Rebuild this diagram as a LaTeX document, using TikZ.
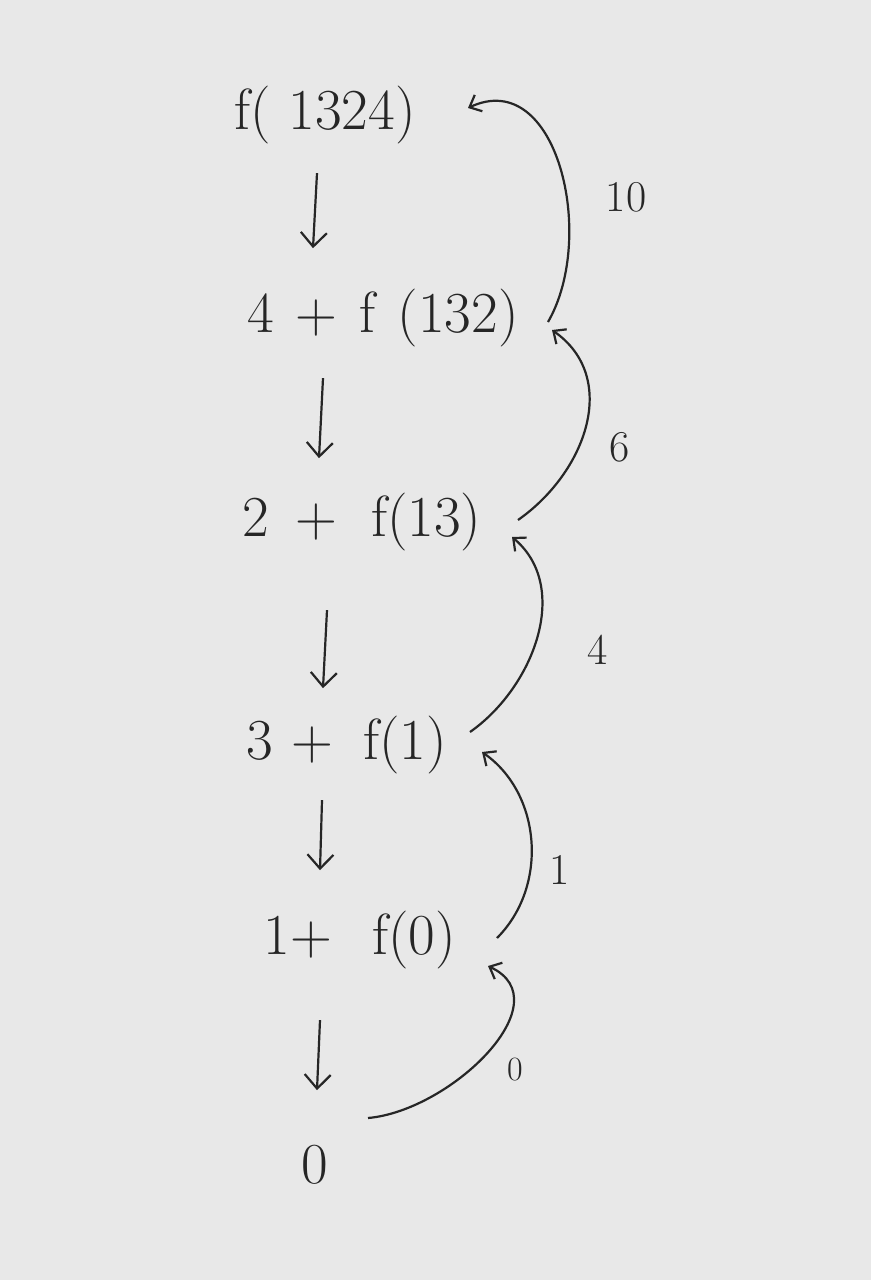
\documentclass[tikz,border=0pt]{standalone}
\usetikzlibrary{arrows.meta}
\begin{document}
\begin{tikzpicture}[x=1pt,y=-1pt,
  expr/.style={inner sep=1pt,font=\fontsize{58}{64}\selectfont,text=black!85},
  lbl/.style={inner sep=1pt,font=\fontsize{44}{50}\selectfont,text=black!85},
  down/.style={-{Straight Barb[length=14pt,width=26pt]},line width=2.2pt,black!85},
  back/.style={-{Straight Barb[length=10pt,width=18pt]},line width=2.2pt,black!85}]
\fill[gray!18] (0,0) rectangle (871,1280);
\useasboundingbox (0,0) rectangle (871,1280);
\node[expr] (n1) at (325,115) {f(\hspace{18pt}1324)};
\node[expr] (n2) at (383,318) {4\hspace{22pt}+\hspace{22pt}f\hspace{22pt}(132)};
\node[expr] (n3) at (362,522) {2\hspace{26pt}+\hspace{34pt}f(13)};
\node[expr] (n4) at (347,745) {3\hspace{18pt}+\hspace{30pt}f(1)};
\node[expr] (n5) at (360,940) {1+\hspace{40pt}f(0)};
\node[expr] (n6) at (315,1165) {0};
\draw[down] (n1.south) ++(-8,28) coordinate (a1s) -- ++(-4,75) coordinate (a1e);
\draw[down] (n2.south) ++(-60,30) coordinate (a2s) -- ++(-4,80) coordinate (a2e);
\draw[down] (n3.south) ++(-35,58) coordinate (a3s) -- ++(-4,78) coordinate (a3e);
\draw[down] (n4.south) ++(-25,25) coordinate (a4s) -- ++(-2,70) coordinate (a4e);
\draw[down] (n5.south) ++(-40,50) coordinate (a5s) -- ++(-3,70) coordinate (a5e);
\coordinate (b1) at (468,108);
\coordinate (s1) at (548,322);
\draw[back] (s1) to[out=60,in=25,looseness=1.1] (b1);
\coordinate (b2) at (552,330);
\coordinate (s2) at (518,520);
\draw[back] (s2) to[out=35,in=-35,looseness=1.1] (b2);
\coordinate (b3) at (512,537);
\coordinate (s3) at (470,732);
\draw[back] (s3) to[out=35,in=-40,looseness=1.0] (b3);
\coordinate (b4) at (482,752);
\coordinate (s4) at (497,938);
\draw[back] (s4) to[out=45,in=-35,looseness=1.0] (b4);
\coordinate (b5) at (488,966);
\coordinate (s5) at (368,1118);
\draw[back] (s5) to[out=5,in=-25,looseness=1.1] (b5);
\node[lbl] (l1) at (626,197) {10};
\node[lbl] (l2) at (620,447) {6};
\node[lbl] (l3) at (598,650) {4};
\node[lbl] (l4) at (560,870) {1};
\node[lbl,font=\fontsize{34}{40}\selectfont] (l5) at (515,1070) {0};
\end{tikzpicture}
\end{document}
